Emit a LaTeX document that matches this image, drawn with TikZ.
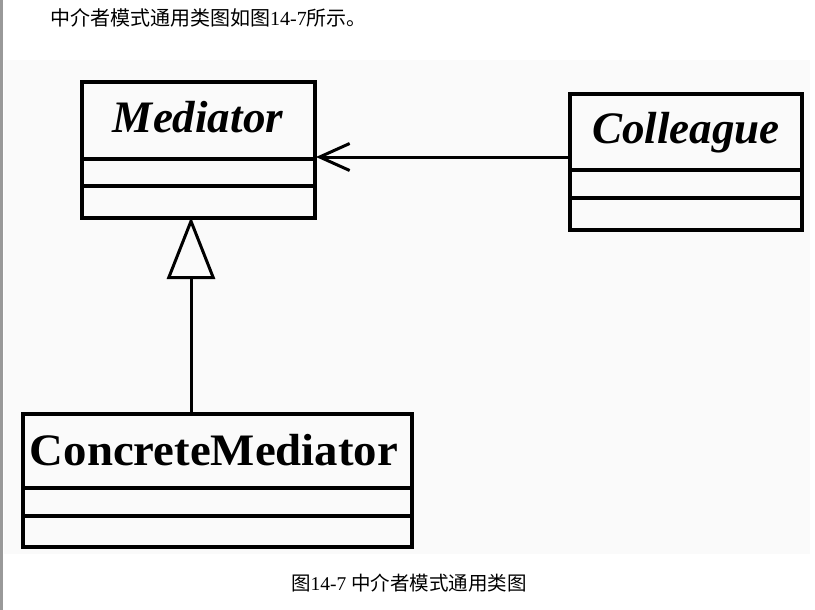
\documentclass[tikz,border=0pt]{standalone}
\usepackage{fontspec}
\setmainfont{Liberation Serif}
\newfontfamily\cjk{Noto Sans CJK SC}
\usetikzlibrary{positioning}
\usetikzlibrary{arrows.meta}

\tikzset{
    classbox/.style={draw, line width=4pt, inner sep=0pt, anchor=north west},
    classname/.style={anchor=base, inner sep=0pt, font=\fontsize{45}{50}\selectfont\bfseries},
    divider/.style={line width=4pt},
    assoc/.style={line width=3pt, -{Straight Barb[length=30pt, width=27pt]}},
    generalize/.style={line width=3pt, -{Triangle[open, length=62pt, width=48pt]}},
    pagetext/.style={anchor=base west, inner sep=0pt, font=\fontsize{20}{24}\selectfont},
}

\begin{document}
\begin{tikzpicture}[x=1pt, y=-1pt]

\useasboundingbox (0,0) rectangle (815,610);

% Page background and left edge
\fill[black!2] (4,60) rectangle (810,554);
\fill[black!40] (0,0) rectangle (3,610);

% Text above and below
\node[pagetext] (intro) at (50,26) {{\cjk 中介者模式通用类图如图}14-7{\cjk 所示。}};
\node[pagetext, anchor=base, font=\fontsize{19.5}{23}\selectfont] (caption) at (409,590) {{\cjk 图}14-7 {\cjk 中介者模式通用类图}};

% The three classes
\node[classbox, minimum width=233pt, minimum height=136pt] (med) at (80,80) {};
\node[classbox, minimum width=232pt, minimum height=136pt] (coll) at (568,92) {};
\node[classbox, minimum width=389pt, minimum height=133pt] (cmed) at (21,412) {};

\node[classname, font=\fontsize{45}{50}\selectfont\bfseries\itshape] (medName) at (198,132) {Mediator};
\node[classname, font=\fontsize{45}{50}\selectfont\bfseries\itshape] (collName) at (686,143) {Colleague};
\node[classname] (cmedName) at (214,465) {\scalebox{1.04}[1]{ConcreteMediator}};

% Compartment lines
\foreach \cls/\one/\two in {med/79/106, coll/78/106, cmed/76/104} {
    \draw[divider] ([yshift=-\one pt]\cls.north west) -- ([yshift=-\one pt]\cls.north east);
    \draw[divider] ([yshift=-\two pt]\cls.north west) -- ([yshift=-\two pt]\cls.north east);
}

% Draws the connectors
\coordinate (assocLevel) at (0,157);
\coordinate (genLine) at (191,300);
\draw[assoc] (coll.west |- assocLevel) -- ([xshift=-1pt]med.east |- assocLevel);
\draw[generalize] (cmed.north -| genLine) -- ([yshift=3pt]med.south -| genLine);

\end{tikzpicture}
\end{document}
